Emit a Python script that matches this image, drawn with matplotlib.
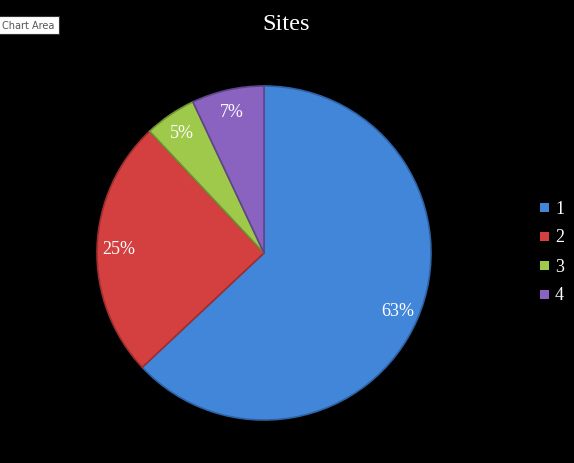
import matplotlib.pyplot as plt
from matplotlib.patches import Rectangle

# data
sites = ["1", "2", "3", "4"]
shares = [63, 25, 5, 7]
colors = ["#4286d9", "#d4403f", "#9ec94b", "#8a63c0"]
edges = ["#2f62a5", "#9e2e2d", "#6f8f33", "#5f4488"]

fig = plt.figure(figsize=(5.74, 4.64), dpi=100)
fig.patch.set_facecolor("black")

# pie centred at (264, 254) px with radius ~167 px
ax = fig.add_axes([(264 - 167) / 574, (464 - 254 - 167) / 464, 334 / 574, 334 / 464])
ax.set_facecolor("black")

wedges, texts, autotexts = ax.pie(
    shares,
    colors=colors,
    startangle=90,
    counterclock=False,
    autopct="%d%%",
    pctdistance=0.87,
    radius=1.0,
    wedgeprops=dict(linewidth=1.2),
    textprops=dict(color="white", family="Liberation Serif", fontsize=13),
)
for w, ec in zip(wedges, edges):
    w.set_edgecolor(ec)
ax.set_xlim(-1, 1)
ax.set_ylim(-1, 1)
ax.set_aspect("equal")
ax.axis("off")

fig.text(286 / 574, 1 - 25 / 464, "Sites", color="white", family="Liberation Serif",
         fontsize=17.5, ha="center", va="center")

# legend
for i, (name, c) in enumerate(zip(sites, colors)):
    y = 1 - (209 + 29 * i) / 464
    fig.patches.append(Rectangle((540 / 574, y - 4 / 464), 9 / 574, 9 / 464,
                                 transform=fig.transFigure, facecolor=c,
                                 edgecolor="none", figure=fig))
    fig.text(555 / 574, y, name, color="white", family="Liberation Serif",
             fontsize=13, ha="left", va="center")

# "Chart Area" tooltip
fig.text(2 / 574, 1 - 26 / 464, "Chart Area", color="#555555", family="DejaVu Sans",
         fontsize=7, ha="left", va="center",
         bbox=dict(boxstyle="square,pad=0.45", facecolor="white", edgecolor="#333333", linewidth=0.8))

fig.savefig("out.png", dpi=100, facecolor="black")
